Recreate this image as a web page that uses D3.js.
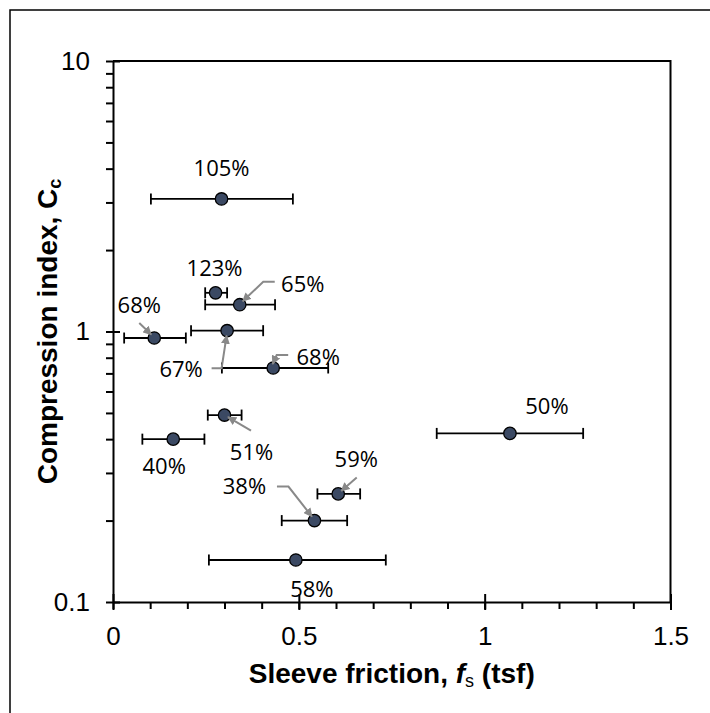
<!DOCTYPE html>
<html>
<head>
  <meta charset="utf-8">
  <title>Compression index vs sleeve friction</title>
  <script src="https://d3js.org/d3.v7.min.js"></script>
  <style>
    body { margin: 0; background: #fff; }
    .axis path { stroke: #000; stroke-width: 2; }
    .axis line { stroke: #000; stroke-width: 2; }
    .axis text { font-family: "Liberation Sans", Arial, sans-serif; font-size: 26px; fill: #000; }
    .pct { font-family: "Open Sans", "Noto Sans", sans-serif; font-size: 22px; fill: #000; }
    .title { font-family: "Liberation Sans", Arial, sans-serif; font-weight: bold; font-size: 28px; fill: #000; }
  </style>
</head>
<body>
  <svg id="chart"></svg>

  <script>
    // Data
    const pctLabels = ["105%", "123%", "65%", "67%", "68%", "68%", "51%", "40%", "50%", "59%", "38%", "58%"];
    const fsMean = [0.292, 0.276, 0.341, 0.307, 0.111, 0.431, 0.300, 0.162, 1.068, 0.606, 0.542, 0.492];
    const fsLow  = [0.102, 0.248, 0.248, 0.210, 0.030, 0.293, 0.255, 0.079, 0.871, 0.550, 0.454, 0.258];
    const fsHigh = [0.484, 0.307, 0.436, 0.404, 0.196, 0.579, 0.346, 0.246, 1.265, 0.665, 0.630, 0.734];
    const ccValues = [3.09, 1.39, 1.256, 1.007, 0.946, 0.733, 0.491, 0.400, 0.420, 0.251, 0.200, 0.143];

    const xTicks = [0, 0.5, 1, 1.5];
    const xTickLabels = ["0", "0.5", "1", "1.5"];
    const yTicks = [0.1, 1, 10];
    const yTickLabels = ["0.1", "1", "10"];

    // Label placement (pixel offsets from marker) and leader arrows
    const labelOffset = [[0, -31], [-1, -25], [63, -21], [-46, 38], [-15, -33], [45, -11],
                         [27, 37], [-9, 27], [37, -27], [18, -35], [-70, -34], [16, 29]];
    const arrowPaths = [null, null,
      [[35, -23], [23.5, -23], [3, -3.5]],
      [[-15.5, 37.5], [-5.5, 37.5], [-0.5, 5]],
      [[-15, -15], [-3, -3.5]],
      [[15, -13], [3.5, -13], [-0.5, -4]],
      [[26.5, 15.5], [3.5, 2]],
      null, null,
      [[18.5, -16.5], [3, -3]],
      [[-37.5, -34], [-26, -34], [-2.5, -4]],
      null];

    const width = 710, height = 713;
    const margin = { top: 61, right: 39.5, bottom: 111, left: 113 };
    const chartWidth = width - margin.left - margin.right;
    const chartHeight = height - margin.top - margin.bottom;

    const svg = d3.select("#chart").attr("width", width).attr("height", height);

    // outer frame
    svg.append("rect")
       .attr("x", 10).attr("y", 10).attr("width", 740).attr("height", 740)
       .attr("fill", "none").attr("stroke", "#000").attr("stroke-width", 1.5);

    svg.append("defs").append("marker")
       .attr("id", "head").attr("viewBox", "0 0 10 10")
       .attr("refX", 9).attr("refY", 5)
       .attr("markerWidth", 4.5).attr("markerHeight", 4.5)
       .attr("markerUnits", "strokeWidth")
       .attr("orient", "auto")
       .append("path").attr("d", "M0,0 L10,5 L0,10 z").attr("fill", "#898989");

    const chart = svg.append("g").attr("transform", `translate(${margin.left},${margin.top})`);

    const x = d3.scaleLinear().domain([0, 1.5]).range([0, chartWidth]);
    const y = d3.scaleLog().domain([0.1, 10]).range([chartHeight, 0]);

    const points = pctLabels.map((t, i) => ({
      label: t, fs: fsMean[i], lo: fsLow[i], hi: fsHigh[i], cc: ccValues[i],
      off: labelOffset[i], arrow: arrowPaths[i]
    }));

    // plot frame (top / right)
    chart.append("path")
         .attr("d", `M0,0 H${chartWidth} V${chartHeight}`)
         .attr("fill", "none").attr("stroke", "#000").attr("stroke-width", 2);

    // error bars
    const err = chart.append("g").attr("stroke", "#000").attr("stroke-width", 1.8).attr("fill", "none");
    points.forEach(d => {
      const cy = y(d.cc);
      err.append("line").attr("x1", x(d.lo)).attr("x2", x(d.hi)).attr("y1", cy).attr("y2", cy);
      err.append("line").attr("x1", x(d.lo)).attr("x2", x(d.lo)).attr("y1", cy - 5.5).attr("y2", cy + 5.5);
      err.append("line").attr("x1", x(d.hi)).attr("x2", x(d.hi)).attr("y1", cy - 5.5).attr("y2", cy + 5.5);
    });

    // markers
    chart.selectAll(".dot")
         .data(points)
         .enter()
         .append("circle")
         .attr("class", "dot")
         .attr("cx", d => x(d.fs))
         .attr("cy", d => y(d.cc))
         .attr("r", 6.2)
         .attr("fill", "#3b4963")
         .attr("stroke", "#000")
         .attr("stroke-width", 1.3);

    // leader arrows
    chart.selectAll(".lead")
         .data(points.filter(d => d.arrow))
         .enter()
         .append("path")
         .attr("class", "lead")
         .attr("d", d => d3.line()(d.arrow.map(p => [x(d.fs) + p[0], y(d.cc) + p[1]])))
         .attr("fill", "none")
         .attr("stroke", "#898989")
         .attr("stroke-width", 2)
         .attr("marker-end", "url(#head)");

    // percentage labels
    chart.selectAll(".pct")
         .data(points)
         .enter()
         .append("text")
         .attr("class", "pct")
         .attr("x", d => x(d.fs) + d.off[0])
         .attr("y", d => y(d.cc) + d.off[1])
         .attr("dy", "0.36em")
         .attr("text-anchor", "middle")
         .text(d => d.label);

    // x axis: minor ticks then major ticks
    chart.append("g")
         .attr("class", "axis")
         .attr("transform", `translate(0,${chartHeight})`)
         .call(d3.axisBottom(x).tickValues(d3.range(0, 16).map(i => i / 10)).tickSize(7).tickFormat(""))
         .select(".domain").remove();

    const xAxis = chart.append("g")
         .attr("class", "axis")
         .attr("transform", `translate(0,${chartHeight})`)
         .call(d3.axisBottom(x).tickValues(xTicks).tickSizeInner(8).tickSizeOuter(0).tickPadding(17)
                 .tickFormat((d, i) => xTickLabels[i]));
    xAxis.selectAll(".tick line").attr("y1", -8);

    // y axis: minor ticks then major ticks
    const minorY = [];
    [0.1, 1].forEach(b => { for (let k = 2; k <= 9; k++) minorY.push(b * k); });
    chart.append("g")
         .attr("class", "axis")
         .call(d3.axisLeft(y).tickValues(minorY).tickSize(7).tickFormat(""))
         .select(".domain").remove();

    const yAxis = chart.append("g")
         .attr("class", "axis")
         .call(d3.axisLeft(y).tickValues(yTicks).tickSizeInner(7).tickSizeOuter(0).tickPadding(16)
                 .tickFormat((d, i) => yTickLabels[i]));
    yAxis.selectAll(".tick line").attr("x1", 7);

    // axis titles
    const xt = svg.append("text")
         .attr("class", "title")
         .attr("x", margin.left + chartWidth / 2)
         .attr("y", 683)
         .attr("text-anchor", "middle");
    xt.append("tspan").text("Sleeve friction, ");
    xt.append("tspan").attr("font-style", "italic").text("f");
    xt.append("tspan").attr("font-size", "18px").attr("font-weight", "normal").attr("dy", 4).text("s");
    xt.append("tspan").attr("dy", -4).text(" (tsf)");

    const yt = svg.append("text")
         .attr("class", "title")
         .attr("transform", `translate(57,${margin.top + chartHeight / 2}) rotate(-90)`)
         .attr("text-anchor", "middle");
    yt.append("tspan").text("Compression index, C");
    yt.append("tspan").attr("font-size", "18px").attr("dy", 4).text("c");
  </script>
</body>
</html>
